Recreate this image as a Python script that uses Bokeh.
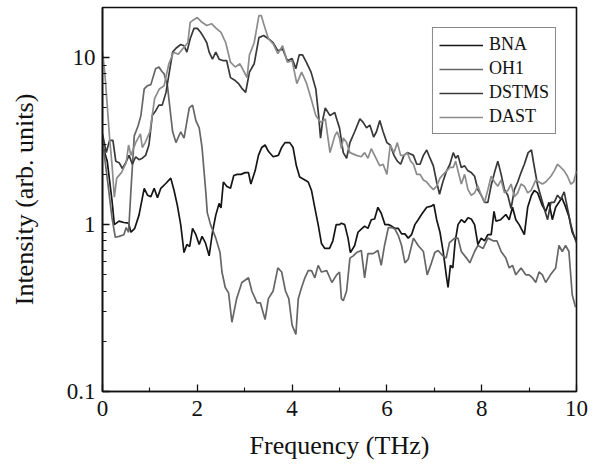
from bokeh.plotting import figure
from bokeh.models import Range1d, FixedTicker, CustomJSTickFormatter
from bokeh.embed import file_html
from bokeh.resources import INLINE

# ---- data ----
bna_f = [0, 0.1, 0.2, 0.25, 0.35, 0.45, 0.55, 0.6, 0.68, 0.77,
         0.88, 0.95, 1.02, 1.09, 1.16, 1.23, 1.34, 1.44, 1.51, 1.58,
         1.65, 1.72, 1.78, 1.84, 1.9, 1.97, 2.04, 2.1, 2.17, 2.25,
         2.32, 2.39, 2.46, 2.5, 2.55, 2.62, 2.7, 2.77, 2.84, 2.92,
         3.01, 3.08, 3.13, 3.22, 3.29, 3.36, 3.43, 3.5, 3.6, 3.71,
         3.78, 3.85, 3.95, 4.02, 4.09, 4.16, 4.27, 4.34, 4.41, 4.48,
         4.55, 4.62, 4.69, 4.79, 4.86, 4.93, 5.0, 5.04, 5.11, 5.18,
         5.23, 5.32, 5.39, 5.46, 5.53, 5.6, 5.67, 5.74, 5.81, 5.88,
         5.96, 6.03, 6.1, 6.17, 6.24, 6.31, 6.38, 6.45, 6.52, 6.59,
         6.66, 6.73, 6.84, 6.94, 6.99, 7.05, 7.12, 7.19, 7.26, 7.29,
         7.34, 7.39, 7.44, 7.5, 7.57, 7.64, 7.71, 7.78, 7.85, 7.92,
         7.99, 8.06, 8.13, 8.2, 8.26, 8.3, 8.4, 8.51, 8.58, 8.65,
         8.72, 8.79, 8.9, 8.97, 9.05, 9.11, 9.18, 9.28, 9.35, 9.42,
         9.49, 9.56, 9.63, 9.69, 9.76, 9.84, 9.91, 10.0]
bna_v = [3.0, 2.4, 1.4, 1.0, 1.05, 1.03, 1.02, 0.9, 0.95, 1.14,
         1.65, 1.5, 1.47, 1.65, 1.45, 1.65, 1.77, 1.9, 1.6, 1.3,
         1.0, 0.68, 0.76, 0.74, 0.95, 0.87, 0.76, 0.85, 0.78, 0.65,
         0.9, 1.14, 1.34, 1.26, 1.8, 1.7, 1.65, 1.97, 2.0, 2.0,
         2.05, 2.05, 1.75, 2.1, 2.6, 2.9, 3.0, 2.75, 2.55, 2.6,
         2.9, 3.1, 3.1, 2.9, 2.25, 1.93, 1.85, 1.8, 1.6, 1.26,
         1.0, 0.77, 0.72, 0.72, 0.8, 1.0, 1.0, 1.02, 1.0, 0.83,
         0.68, 0.75, 0.9, 0.94, 0.98, 0.95, 1.07, 1.08, 1.27, 1.17,
         1.0, 1.0, 0.98, 0.95, 0.95, 0.88, 0.88, 0.83, 0.87, 1.0,
         1.07, 1.15, 1.27, 1.29, 1.32, 1.07, 0.9, 0.68, 0.48, 0.42,
         0.57, 0.55, 0.79, 1.0, 1.07, 1.03, 1.1, 1.08, 1.0, 0.76,
         0.83, 0.8, 0.87, 0.87, 1.2, 1.05, 1.07, 1.15, 1.07, 1.27,
         1.07, 1.0, 0.87, 1.27, 1.5, 1.6, 1.55, 1.3, 1.2, 1.36,
         1.07, 1.27, 1.36, 1.45, 1.3, 1.12, 0.9, 0.8]

oh1_f = [0, 0.1, 0.2, 0.27, 0.35, 0.45, 0.5, 0.55, 0.6, 0.67,
         0.75, 0.81, 0.88, 0.95, 1.02, 1.12, 1.19, 1.25, 1.3, 1.37,
         1.44, 1.48, 1.55, 1.65, 1.72, 1.83, 1.9, 1.97, 2.04, 2.1,
         2.18, 2.21, 2.28, 2.39, 2.48, 2.52, 2.59, 2.66, 2.73, 2.83,
         2.94, 3.08, 3.15, 3.26, 3.33, 3.43, 3.5, 3.6, 3.7, 3.78,
         3.86, 3.93, 4.0, 4.08, 4.13, 4.2, 4.27, 4.34, 4.41, 4.48,
         4.55, 4.62, 4.73, 4.84, 4.94, 5.0, 5.04, 5.08, 5.15, 5.22,
         5.29, 5.36, 5.46, 5.53, 5.6, 5.71, 5.81, 5.88, 5.95, 6.03,
         6.1, 6.17, 6.24, 6.31, 6.38, 6.45, 6.56, 6.66, 6.77, 6.85,
         6.94, 7.01, 7.08, 7.18, 7.25, 7.32, 7.43, 7.5, 7.57, 7.68,
         7.75, 7.85, 7.92, 8.03, 8.13, 8.24, 8.32, 8.41, 8.51, 8.58,
         8.65, 8.72, 8.83, 8.93, 9.0, 9.07, 9.14, 9.21, 9.28, 9.35,
         9.45, 9.56, 9.63, 9.7, 9.77, 9.84, 9.91, 9.98]
oh1_v = [3.2, 1.9, 1.1, 0.84, 0.85, 0.87, 0.96, 0.9, 1.6, 3.4,
         3.9, 4.5, 6.5, 6.8, 6.9, 8.6, 8.8, 8.3, 8.0, 6.8,
         4.5, 3.6, 3.1, 3.6, 3.3, 5.0, 5.2, 4.2, 3.8, 2.9,
         1.56, 1.18, 1.0, 0.83, 0.68, 0.52, 0.42, 0.39, 0.26, 0.36,
         0.45, 0.48, 0.40, 0.34, 0.34, 0.27, 0.36, 0.40, 0.55, 0.52,
         0.40, 0.36, 0.25, 0.22, 0.36, 0.42, 0.48, 0.53, 0.53, 0.48,
         0.57, 0.52, 0.53, 0.45, 0.5, 0.52, 0.36, 0.35, 0.40, 0.63,
         0.65, 0.68, 0.7, 0.48, 0.67, 0.67, 0.7, 0.57, 0.75, 0.96,
         0.96, 0.94, 0.86, 0.75, 0.59, 0.62, 0.83, 0.75, 0.69, 0.5,
         0.59, 0.68, 0.7, 0.65, 0.63, 0.78, 0.83, 0.83, 0.69, 0.63,
         0.59, 0.69, 0.75, 0.72, 0.83, 0.8, 0.8, 0.69, 0.63, 0.55,
         0.57, 0.5, 0.55, 0.5, 0.5, 0.48, 0.45, 0.52, 0.5, 0.45,
         0.5, 0.55, 0.75, 0.69, 0.75, 0.69, 0.38, 0.32]

dstms_f = [0, 0.08, 0.15, 0.22, 0.28, 0.35, 0.42, 0.49, 0.56, 0.63,
           0.7, 0.77, 0.84, 0.91, 0.98, 1.05, 1.12, 1.19, 1.26, 1.34,
           1.41, 1.48, 1.55, 1.65, 1.72, 1.78, 1.85, 1.93, 2.0, 2.07,
           2.14, 2.2, 2.25, 2.32, 2.39, 2.46, 2.55, 2.62, 2.7, 2.8,
           2.87, 2.95, 3.02, 3.1, 3.2, 3.3, 3.4, 3.5, 3.6, 3.7,
           3.8, 3.9, 4.0, 4.08, 4.15, 4.22, 4.3, 4.4, 4.5, 4.56,
           4.6, 4.65, 4.7, 4.8, 4.9, 4.95, 5.0, 5.08, 5.15, 5.22,
           5.32, 5.43, 5.5, 5.57, 5.64, 5.72, 5.78, 5.85, 5.92, 6.0,
           6.07, 6.15, 6.22, 6.29, 6.36, 6.43, 6.5, 6.56, 6.63, 6.7,
           6.77, 6.84, 6.91, 6.98, 7.05, 7.11, 7.18, 7.26, 7.33, 7.4,
           7.45, 7.5, 7.57, 7.64, 7.71, 7.78, 7.85, 7.92, 7.99, 8.06,
           8.13, 8.2, 8.27, 8.34, 8.41, 8.48, 8.55, 8.62, 8.69, 8.76,
           8.83, 8.9, 8.98, 9.05, 9.1, 9.18, 9.25, 9.32, 9.39, 9.46,
           9.53, 9.6, 9.67, 9.74, 9.81, 9.88, 9.95, 10.0]
dstms_v = [3.5, 2.7, 3.2, 3.2, 2.4, 2.35, 2.17, 2.35, 2.6, 2.3,
           2.55, 2.45, 2.5, 2.6, 3.0, 4.5, 4.8, 5.2, 5.2, 6.2,
           8.2, 10.8, 11.4, 12.0, 11.8, 10.8, 13.0, 15.0, 15.0, 14.2,
           13.2, 12.3, 10.8, 9.8, 10.8, 9.8, 9.6, 9.6, 7.6, 7.3,
           7.0, 6.5, 6.2, 8.2, 9.2, 13.2, 13.6, 13.0, 12.3, 11.0,
           11.3, 9.6, 9.9, 8.6, 10.4, 10.4, 9.4, 8.2, 6.5, 4.5,
           3.3, 4.3, 5.0, 4.5, 4.7, 4.2, 3.8, 2.7, 2.5, 3.1,
           3.6, 4.3, 4.1, 3.8, 3.95, 3.35, 3.6, 4.2, 3.6, 3.1,
           3.0, 2.6, 2.4, 2.3, 2.6, 2.7, 2.65, 2.6, 2.3, 2.3,
           2.6, 2.8, 2.5, 2.25, 1.8, 1.52, 1.8, 2.1, 2.3, 2.7,
           2.5, 2.6, 2.2, 2.25, 2.1, 2.05, 1.95, 1.62, 1.5, 1.36,
           1.36, 1.72, 2.05, 2.4, 2.0, 1.62, 1.5, 1.25, 1.62, 1.8,
           2.05, 2.3, 2.7, 2.8, 2.3, 1.72, 1.47, 1.25, 1.07, 1.36,
           1.36, 1.5, 1.42, 1.57, 1.25, 1.0, 0.85, 0.78]

dast_f = [0, 0.05, 0.1, 0.15, 0.2, 0.25, 0.3, 0.4, 0.5, 0.55,
          0.6, 0.7, 0.8, 0.84, 0.9, 1.0, 1.1, 1.2, 1.3, 1.4,
          1.5, 1.6, 1.7, 1.8, 1.85, 1.9, 2.0, 2.1, 2.2, 2.3,
          2.4, 2.5, 2.6, 2.7, 2.8, 2.9, 3.0, 3.05, 3.1, 3.2,
          3.3, 3.35, 3.4, 3.5, 3.6, 3.7, 3.8, 3.9, 4.0, 4.1,
          4.2, 4.3, 4.4, 4.5, 4.6, 4.7, 4.8, 4.9, 4.95, 5.0,
          5.04, 5.08, 5.15, 5.22, 5.36, 5.46, 5.53, 5.6, 5.67, 5.74,
          5.85, 5.92, 6.0, 6.07, 6.15, 6.22, 6.29, 6.36, 6.43, 6.5,
          6.56, 6.63, 6.7, 6.77, 6.84, 6.91, 6.98, 7.05, 7.12, 7.19,
          7.26, 7.33, 7.4, 7.45, 7.5, 7.57, 7.64, 7.71, 7.78, 7.85,
          7.92, 7.99, 8.06, 8.13, 8.2, 8.27, 8.34, 8.41, 8.48, 8.55,
          8.62, 8.69, 8.76, 8.83, 8.9, 8.97, 9.04, 9.14, 9.21, 9.28,
          9.35, 9.46, 9.53, 9.6, 9.67, 9.74, 9.81, 9.88, 9.94, 10.0]
dast_v = [11.0, 8.0, 5.2, 3.3, 2.3, 1.46, 1.9, 2.05, 2.35, 3.0,
          2.6, 3.1, 3.5, 2.9, 3.1, 3.6, 5.7, 6.5, 6.8, 9.2,
          10.8, 10.5, 11.4, 12.3, 16.3, 16.7, 17.4, 16.3, 15.6, 16.0,
          15.0, 14.2, 12.3, 9.4, 8.8, 9.2, 8.1, 7.6, 10.4, 12.3,
          17.9, 17.9, 16.0, 13.0, 12.1, 10.6, 11.8, 9.4, 9.6, 7.0,
          8.2, 7.1, 5.7, 4.5, 4.1, 4.3, 2.7, 3.4, 3.6, 3.3,
          2.85, 3.3, 3.1, 2.7, 2.6, 2.55, 2.7, 2.5, 2.85, 2.6,
          2.25, 2.3, 2.0, 3.0, 2.7, 3.1, 2.6, 2.6, 2.7, 2.4,
          2.3, 2.0, 2.0, 1.85, 1.8, 1.7, 1.62, 1.7, 1.9, 2.0,
          2.1, 2.2, 2.2, 2.4, 2.1, 1.75, 2.0, 1.62, 1.5, 1.55,
          1.7, 1.5, 1.36, 1.62, 1.95, 1.8, 1.7, 1.85, 1.55, 1.6,
          1.75, 1.47, 1.55, 1.75, 1.7, 1.55, 1.6, 1.85, 1.8, 1.75,
          1.8, 1.95, 2.1, 2.3, 2.2, 2.1, 1.95, 1.75, 1.8, 2.1]

series_names = ["BNA", "OH1", "DSTMS", "DAST"]
series_colors = ["#151515", "#666666", "#383838", "#8c8c8c"]

x_major = [0, 2, 4, 6, 8, 10]
x_minor = [1, 3, 5, 7, 9]
y_major = [0.1, 1, 10]
y_minor = [0.2, 0.3, 0.4, 0.5, 0.6, 0.7, 0.8, 0.9, 2, 3, 4, 5, 6, 7, 8, 9]

FONT = "Liberation Serif"

p = figure(width=600, height=469, y_axis_type="log",
           x_range=Range1d(0, 10), y_range=Range1d(0.1, 20),
           output_backend="svg", toolbar_location=None,
           min_border_left=102, min_border_right=24,
           min_border_top=7, min_border_bottom=78)

data = [(bna_f, bna_v), (oh1_f, oh1_v), (dstms_f, dstms_v), (dast_f, dast_v)]
for (fx, fv), name, col in zip(data, series_names, series_colors):
    p.line(fx, fv, line_color=col, line_width=1.7, legend_label=name)

p.xgrid.visible = False
p.ygrid.visible = False
p.background_fill_color = "white"
p.border_fill_color = "white"
p.outline_line_color = "#111111"
p.outline_line_width = 1.6

p.xaxis.ticker = FixedTicker(ticks=x_major, minor_ticks=x_minor)
p.yaxis.ticker = FixedTicker(ticks=y_major, minor_ticks=y_minor)
p.yaxis.formatter = CustomJSTickFormatter(code="return tick.toString();")

for ax in (p.xaxis, p.yaxis):
    ax.axis_line_width = 1.6
    ax.axis_line_color = "#111111"
    ax.major_tick_in = 7
    ax.major_tick_out = 0
    ax.minor_tick_in = 4
    ax.minor_tick_out = 0
    ax.major_tick_line_color = "#111111"
    ax.minor_tick_line_color = "#111111"
    ax.major_tick_line_width = 1.3
    ax.minor_tick_line_width = 1.1
    ax.major_label_text_font = FONT
    ax.major_label_text_font_size = "23px"
    ax.major_label_text_color = "#111111"
    ax.axis_label_text_font = FONT
    ax.axis_label_text_font_size = "26px"
    ax.axis_label_text_font_style = "normal"
    ax.axis_label_text_color = "#111111"

p.xaxis.axis_label = "Frequency (THz)"
p.yaxis.axis_label = "Intensity (arb. units)"
p.xaxis.major_label_standoff = 9
p.yaxis.major_label_standoff = 7
p.xaxis.axis_label_standoff = 12
p.yaxis.axis_label_standoff = 25

lg = p.legend[0]
lg.location = "top_right"
lg.margin = 20
lg.padding = 6
lg.spacing = 3
lg.label_height = 20
lg.glyph_height = 20
lg.glyph_width = 44
lg.label_standoff = 6
lg.label_text_font = FONT
lg.label_text_font_size = "18px"
lg.label_text_color = "#111111"
lg.border_line_color = "#111111"
lg.border_line_width = 1.5
lg.background_fill_alpha = 1.0

open("out.html", "w").write(file_html(p, INLINE))
